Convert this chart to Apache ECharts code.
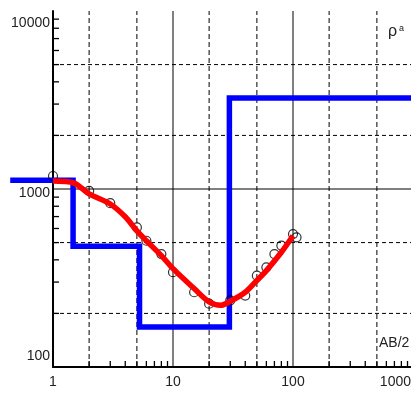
<!DOCTYPE html>
<html>
<head>
<meta charset="utf-8">
<script src="https://cdn.jsdelivr.net/npm/echarts@6/dist/echarts.min.js"></script>
<style>
html, body { margin: 0; padding: 0; background: #fff; }
#chart { width: 411px; height: 394px; }
</style>
</head>
<body>
<div id="chart"></div>
<script>
const FONT = '"Liberation Sans", Arial, sans-serif';
const FONT_SIZE = 14;

// Field sounding: apparent resistivity vs half electrode spacing AB/2
const measuredAB  = [1, 2, 3, 5, 6, 8, 10, 15, 20, 30, 40, 50, 60, 70, 80, 100, 107];
const measuredRho = [1183, 976, 832, 608, 512, 431, 341, 263, 227, 237, 252, 326, 363, 431, 481, 558, 535];

// Computed sounding curve of the fitted model
const fitAB  = [1, 1.5, 2, 3, 4, 5, 6, 8, 10, 15, 20, 25, 30, 40, 50, 60, 80, 100];
const fitRho = [1109, 1080, 938, 824, 698, 582, 512, 422, 357, 276, 232, 222, 234, 263, 306, 348, 441, 546];

// Layered model: resistivity steps versus depth
const modelAB  = [0.44, 1.47, 1.47, 5.26, 5.26, 29.5, 29.5, 1100];
const modelRho = [1120, 1120, 477, 477, 168, 168, 3240, 3240];

// Axis ranges, tick labels and grid
const X_MIN = 1, X_MAX = 1000;
const Y_MIN = 100, Y_MAX = 10000;
const xTickLabels = ['1', '10', '100', '1000'];
const yTickLabels = ['100', '1000', '10000'];
const gridSolidX  = [10, 100];
const gridDashedX = [2, 5, 20, 50, 200, 500];
const gridSolidY  = [1000];
const gridDashedY = [200, 500, 2000, 5000];
const minorTicksX = [2, 3, 4, 5, 6, 7, 8, 9, 20, 30, 40, 50, 60, 70, 80, 90, 200, 300, 400, 500, 600, 700, 800, 900];
const minorTicksY = [200, 300, 400, 500, 600, 700, 800, 900, 2000, 3000, 4000, 5000, 6000, 7000, 8000, 9000];

// Plot box and pixels per decade; the model profile runs past the left axis,
// so it lives on a wider twin grid that shares the same log scaling.
const PLOT = { left: 53, top: 11, width: 360, height: 356 };
const DECADE_PX = PLOT.width / 3;

const zip = (a, b) => a.map((v, i) => [v, b[i]]);
const labelFor = (v, list) => list.find(s => Math.abs(Number(s) - v) < 1e-6 * v) || '';

function gridLine(vertical, dash) {
  return function (params, api) {
    const v = api.value(vertical ? 0 : 1);
    const p1 = vertical ? api.coord([v, Y_MIN]) : api.coord([X_MIN, v]);
    const p2 = vertical ? api.coord([v, Y_MAX]) : api.coord([X_MAX, v]);
    return {
      type: 'line',
      shape: { x1: p1[0], y1: p1[1], x2: p2[0], y2: p2[1] },
      style: { stroke: '#000', lineWidth: 1, lineDash: dash }
    };
  };
}

function tickMark(vertical) {
  return function (params, api) {
    const v = api.value(vertical ? 0 : 1);
    const p = vertical ? api.coord([v, Y_MIN]) : api.coord([X_MIN, v]);
    return {
      type: 'line',
      shape: vertical
        ? { x1: p[0], y1: p[1], x2: p[0], y2: p[1] - 6 }
        : { x1: p[0], y1: p[1], x2: p[0] + 6, y2: p[1] },
      style: { stroke: '#000', lineWidth: 1.3 }
    };
  };
}

const labelStyle = { fontFamily: FONT, fontSize: FONT_SIZE, color: '#222' };

const chart = echarts.init(document.getElementById('chart'), null, { renderer: 'canvas' });

chart.setOption({
  animation: false,
  backgroundColor: '#fff',
  grid: [
    { left: PLOT.left, top: PLOT.top, width: PLOT.width, height: PLOT.height,
      containLabel: false, outerBoundsMode: 'none' },
    { left: PLOT.left - DECADE_PX, top: PLOT.top, width: PLOT.width + DECADE_PX, height: PLOT.height,
      containLabel: false, outerBoundsMode: 'none' }
  ],
  xAxis: [
    {
      type: 'log', logBase: 10, min: X_MIN, max: X_MAX, gridIndex: 0,
      axisLine: { show: true, lineStyle: { color: '#000', width: 2 } },
      axisTick: { show: false },
      splitLine: { show: false },
      axisLabel: Object.assign({}, labelStyle, {
        margin: 8,
        alignMaxLabel: 'right',
        formatter: function (v) {
          const s = labelFor(v, xTickLabels);
          return v >= X_MAX ? '{e|' + s + '}' : '{n|' + s + '}';
        },
        rich: {
          n: Object.assign({}, labelStyle),
          e: Object.assign({}, labelStyle, { padding: [0, 2, 0, 0] })
        }
      })
    },
    { type: 'log', logBase: 10, min: X_MIN / 10, max: X_MAX, gridIndex: 1, show: false }
  ],
  yAxis: [
    {
      type: 'log', logBase: 10, min: Y_MIN, max: Y_MAX, gridIndex: 0,
      axisLine: { show: true, lineStyle: { color: '#000', width: 2 } },
      axisTick: { show: false },
      splitLine: { show: false },
      axisLabel: Object.assign({}, labelStyle, {
        margin: 3,
        formatter: function (v) {
          const s = labelFor(v, yTickLabels);
          if (v >= Y_MAX) return '{t|' + s + '}';
          if (v <= Y_MIN) return '{b|' + s + '}';
          return '{m|' + s + '}';
        },
        rich: {
          t: Object.assign({}, labelStyle, { padding: [24, 0, 0, 0] }),
          m: Object.assign({}, labelStyle, { padding: [8, 0, 0, 0] }),
          b: Object.assign({}, labelStyle, { padding: [0, 0, 22, 0] })
        }
      })
    },
    { type: 'log', logBase: 10, min: Y_MIN, max: Y_MAX, gridIndex: 1, show: false }
  ],
  graphic: [
    {
      type: 'text', left: 388, top: 24, silent: true,
      style: {
        text: '{r|ρ}{a|a}',
        rich: {
          r: { fontFamily: FONT, fontSize: 16, fill: '#222' },
          a: { fontFamily: FONT, fontSize: 9, fill: '#222', verticalAlign: 'top', padding: [0, 0, 7, 2] }
        }
      }
    },
    {
      type: 'text', left: 379, top: 336, silent: true,
      style: { text: 'AB/2', fontFamily: FONT, fontSize: FONT_SIZE, fill: '#222' }
    }
  ],
  series: [
    { type: 'custom', silent: true, z: 1, renderItem: gridLine(true, null),
      data: gridSolidX.map(v => [v, 1000]) },
    { type: 'custom', silent: true, z: 1, renderItem: gridLine(true, [5, 3]),
      data: gridDashedX.map(v => [v, 1000]) },
    { type: 'custom', silent: true, z: 1, renderItem: gridLine(false, null),
      data: gridSolidY.map(v => [10, v]) },
    { type: 'custom', silent: true, z: 1, renderItem: gridLine(false, [4, 3]),
      data: gridDashedY.map(v => [10, v]) },
    { type: 'custom', silent: true, z: 1, renderItem: tickMark(true),
      data: minorTicksX.map(v => [v, 1000]) },
    { type: 'custom', silent: true, z: 1, renderItem: tickMark(false),
      data: minorTicksY.map(v => [10, v]) },
    {
      name: 'model', type: 'line', clip: false, z: 3, silent: true,
      xAxisIndex: 1, yAxisIndex: 1,
      showSymbol: false, data: zip(modelAB, modelRho),
      lineStyle: { color: '#0000ff', width: 5.5, join: 'miter', cap: 'butt' }
    },
    {
      name: 'measured', type: 'scatter', z: 4, silent: true,
      symbol: 'circle', symbolSize: 9, data: zip(measuredAB, measuredRho),
      itemStyle: { color: 'rgba(0,0,0,0)', borderColor: '#000', borderWidth: 1.2 }
    },
    {
      name: 'fit', type: 'line', z: 5, silent: true, smooth: 0.3,
      showSymbol: false, data: zip(fitAB, fitRho),
      lineStyle: { color: '#ff0000', width: 5.5 }
    }
  ]
});
</script>
</body>
</html>
